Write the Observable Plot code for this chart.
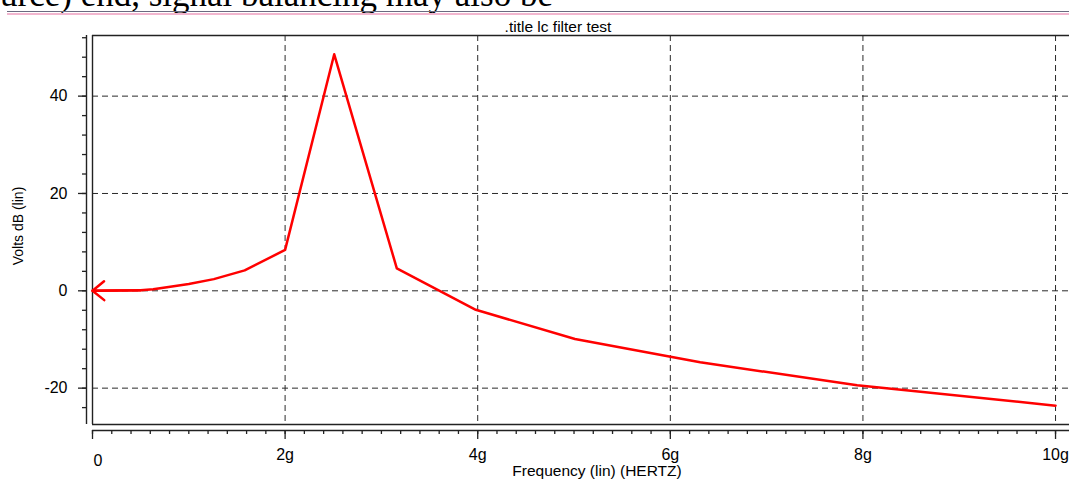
<!DOCTYPE html>
<html>
<head>
<meta charset="utf-8">
<script src="https://cdn.jsdelivr.net/npm/d3@7"></script>
<script src="https://cdn.jsdelivr.net/npm/@observablehq/plot@0.6"></script>
<style>
  html, body { margin: 0; padding: 0; background: #fff; }
  body { width: 1069px; height: 483px; overflow: hidden; position: relative; font-family: "Liberation Sans", Arial, sans-serif; }
  #prose { position: absolute; left: 0px; top: -23px; font-family: "Liberation Serif", "Times New Roman", serif; font-size: 35px; line-height: 35px; white-space: nowrap; color: #000; }
  #rule1 { position: absolute; left: 7px; right: 0; top: 11px; height: 1px; background: #6a6a80; }
  #rule2 { position: absolute; left: 7px; right: 0; top: 13px; height: 2px; background: #f2b6cf; }
  #title { position: absolute; left: 458px; width: 200px; top: 18px; text-align: center; font-size: 15.5px; color: #000; }
  #chart { position: absolute; left: 0; top: 0; }
</style>
</head>
<body>
<div id="prose">urce) end, signal balancing may also be</div>
<div id="rule1"></div>
<div id="rule2"></div>
<div id="chart"></div>
<div id="title">.title lc filter test</div>
<script>
// Frequency in GHz ("g"), response in dB
const freqG = [0, 0.5, 0.63, 0.79, 1.0, 1.26, 1.58, 2.0, 2.51, 3.16, 3.98, 5.01, 6.31, 7.94, 10];
const voltsDb = [0, 0.1, 0.3, 0.8, 1.4, 2.4, 4.2, 8.4, 48.6, 4.6, -3.9, -9.9, -14.7, -19.4, -23.6];

const xMajorTicks = [2, 4, 6, 8, 10];
const xMinorTicks = d3.range(0, 10.01, 0.2);
const yMajorTicks = [-20, 0, 20, 40];
const yMinorTicks = d3.range(-24, 53, 4);
const xDomain = [0, 10.145];
const yDomain = [-27.47, 52.46];

const xTitle = "Frequency (lin) (HERTZ)";
const yTitle = "Volts dB (lin)";

const data = freqG.map((f, i) => ({f, v: voltsDb[i]}));

const grid = {stroke: "#2a2a2a", strokeWidth: 1, strokeDasharray: "6,4"};
const frameStyle = {stroke: "#222", strokeWidth: 1.4};

const chart = Plot.plot({
  width: 1069,
  height: 483,
  marginLeft: 92,
  marginRight: 0,
  marginTop: 35,
  marginBottom: 59,
  style: {fontFamily: "'Liberation Sans', Arial, sans-serif", fontSize: "16px", color: "#000", background: "transparent"},
  x: {domain: xDomain},
  y: {domain: yDomain},
  marks: [
    // gridlines
    Plot.ruleY(yMajorTicks, grid),
    Plot.ruleX(xMajorTicks, grid),
    // frame (top, bottom, left)
    Plot.ruleY([yDomain[1]], frameStyle),
    Plot.ruleY([yDomain[0]], frameStyle),
    Plot.ruleX([xDomain[0]], frameStyle),
    // separate axis lines
    Plot.ruleX([xDomain[0]], {...frameStyle, dx: -6}),
    Plot.ruleY([yDomain[0]], {...frameStyle, dy: 6}),
    // y axis ticks
    Plot.axisY(yMinorTicks, {tickSize: 4, dx: -6, tickFormat: () => "", label: null, stroke: "#222", strokeWidth: 1.3}),
    Plot.axisY(yMajorTicks, {tickSize: 8, dx: -6, tickFormat: () => "", label: null, stroke: "#222", strokeWidth: 1.3}),
    Plot.axisY(yMajorTicks, {tickSize: 0, dx: -14, tickPadding: 11, dy: 0, tickFormat: d => String(d), label: null, fill: "#000"}),
    // x axis ticks
    Plot.axisX(xMinorTicks, {tickSize: 4, dy: 6, tickFormat: () => "", label: null, stroke: "#222", strokeWidth: 1.3}),
    Plot.axisX([0, ...xMajorTicks], {tickSize: 9, dy: 6, tickFormat: () => "", label: null, stroke: "#222", strokeWidth: 1.3}),
    Plot.axisX(xMajorTicks, {tickSize: 0, dy: 13, tickPadding: 11, tickFormat: d => d + "g", label: null, fill: "#000"}),
    Plot.text([0], {x: d => d, frameAnchor: "bottom", text: d => String(d), textAnchor: "start", lineAnchor: "middle", dx: 1, dy: 36, fill: "#000"}),
    // axis titles
    Plot.text([xTitle], {frameAnchor: "bottom", text: d => d, textAnchor: "middle", lineAnchor: "middle", dx: 16, dy: 47, fontSize: 15.5, fill: "#000"}),
    Plot.text([yTitle], {frameAnchor: "left", text: d => d, rotate: -90, textAnchor: "middle", lineAnchor: "middle", dx: -74, dy: -4, fontSize: 14, fill: "#000"}),
    // response curve
    Plot.line(data, {x: "f", y: "v", stroke: "#ff0000", strokeWidth: 2.5}),
    // arrow head at the start of the curve, pointing to the first sample
    Plot.arrow([0], {x1: () => freqG[1], y1: () => voltsDb[1], x2: () => freqG[0], y2: () => voltsDb[0], stroke: "#ff0000", strokeWidth: 2.5, headLength: 9, headAngle: 78})
  ]
});
document.getElementById("chart").appendChild(chart);
</script>
</body>
</html>
